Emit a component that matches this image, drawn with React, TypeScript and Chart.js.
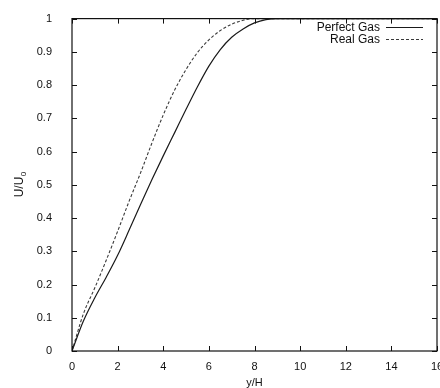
import React, { useEffect, useRef } from "react";
import { Chart, registerables } from "chart.js";

Chart.register(...registerables);

const yOverH = [0, 0.5, 1, 1.5, 2, 2.5, 3, 3.5, 4, 4.5, 5, 5.5, 6, 6.5, 7, 7.5, 8, 8.5, 9, 10, 12, 14, 16];
const perfectGas = [0, 0.09, 0.16, 0.222, 0.288, 0.363, 0.44, 0.515, 0.587, 0.657, 0.727, 0.795, 0.857, 0.907, 0.944, 0.969, 0.987, 0.997, 1, 1, 1, 1, 1];
const realGas = [0, 0.112, 0.19, 0.273, 0.36, 0.45, 0.535, 0.625, 0.71, 0.785, 0.847, 0.898, 0.936, 0.964, 0.983, 0.995, 1, 1, 1, 1, 1, 1, 1];
const seriesNames = ["Perfect Gas", "Real Gas"];
const xTicks = [0, 2, 4, 6, 8, 10, 12, 14, 16];
const yTicks = [0, 0.1, 0.2, 0.3, 0.4, 0.5, 0.6, 0.7, 0.8, 0.9, 1];
const xTitle = "y/H";
const yTitleMain = "U/U";
const yTitleSub = "0";

const FONT = "'Liberation Sans', Arial, Helvetica, sans-serif";

const framePlugin = {
  id: "framePlugin",
  afterDraw(chart: any) {
    const { ctx, chartArea } = chart;
    const { left, right, top, bottom } = chartArea;
    const xs = chart.scales.x;
    const ys = chart.scales.y;
    ctx.save();
    ctx.strokeStyle = "#111";
    ctx.lineWidth = 1.2;
    ctx.strokeRect(left, top, right - left, bottom - top);
    ctx.lineWidth = 1;
    xTicks.forEach((v) => {
      const px = Math.round(xs.getPixelForValue(v)) + 0.5;
      ctx.beginPath();
      ctx.moveTo(px, bottom);
      ctx.lineTo(px, bottom - 5);
      ctx.moveTo(px, top);
      ctx.lineTo(px, top + 5);
      ctx.stroke();
    });
    yTicks.forEach((v) => {
      const py = Math.round(ys.getPixelForValue(v)) + 0.5;
      ctx.beginPath();
      ctx.moveTo(left, py);
      ctx.lineTo(left + 5, py);
      ctx.moveTo(right, py);
      ctx.lineTo(right - 5, py);
      ctx.stroke();
    });
    // axis titles
    ctx.fillStyle = "#111";
    ctx.font = `11px ${FONT}`;
    ctx.textAlign = "center";
    ctx.textBaseline = "middle";
    ctx.fillText(xTitle, (left + xs.getPixelForValue(16)) / 2, 383);
    ctx.save();
    ctx.translate(23, (top + bottom) / 2);
    ctx.rotate(-Math.PI / 2);
    ctx.font = `12px ${FONT}`;
    ctx.textBaseline = "alphabetic";
    ctx.textAlign = "left";
    const mainW = ctx.measureText(yTitleMain).width;
    ctx.font = `8px ${FONT}`;
    const subW = ctx.measureText(yTitleSub).width;
    const start = -(mainW + subW) / 2;
    ctx.font = `12px ${FONT}`;
    ctx.fillText(yTitleMain, start, 0);
    ctx.font = `8px ${FONT}`;
    ctx.fillText(yTitleSub, start + mainW + 0.5, 3);
    ctx.restore();
    // legend
    ctx.font = `12px ${FONT}`;
    ctx.textAlign = "right";
    ctx.textBaseline = "middle";
    const rows = [28, 40];
    chart.data.datasets.forEach((ds: any, i: number) => {
      ctx.fillStyle = "#111";
      ctx.fillText(seriesNames[i], 380, rows[i]);
      ctx.strokeStyle = ds.borderColor;
      ctx.lineWidth = ds.borderWidth;
      ctx.setLineDash(ds.borderDash || []);
      ctx.beginPath();
      ctx.moveTo(386, rows[i] - 0.5);
      ctx.lineTo(423, rows[i] - 0.5);
      ctx.stroke();
      ctx.setLineDash([]);
    });
    ctx.restore();
  },
};

export default function App() {
  const ref = useRef<HTMLCanvasElement>(null);
  useEffect(() => {
    if (!ref.current) return;
    const chart = new Chart(ref.current, {
      type: "line",
      data: {
        datasets: [
          {
            label: seriesNames[0],
            data: yOverH.map((x, i) => ({ x, y: perfectGas[i] })),
            borderColor: "#1a1a1a",
            borderWidth: 1.2,
            pointRadius: 0,
            cubicInterpolationMode: "monotone",
            fill: false,
          },
          {
            label: seriesNames[1],
            data: yOverH.map((x, i) => ({ x, y: realGas[i] })),
            borderColor: "#3a3a3a",
            borderWidth: 1.1,
            borderDash: [3, 2],
            pointRadius: 0,
            cubicInterpolationMode: "monotone",
            fill: false,
          },
        ],
      },
      options: {
        responsive: false,
        animation: false,
        layout: { padding: { left: 0, top: 15, right: 33, bottom: 0 } },
        plugins: { legend: { display: false }, tooltip: { enabled: false } },
        scales: {
          x: {
            type: "linear",
            min: 0,
            max: 16,
            grid: { display: false },
            border: { display: false },
            afterFit: (s: any) => {
              s.height = 37;
            },
            afterBuildTicks: (s: any) => {
              s.ticks = xTicks.map((v) => ({ value: v }));
            },
            ticks: {
              color: "#111",
              font: { family: FONT, size: 11 },
              padding: 1,
              maxRotation: 0,
            },
          },
          y: {
            type: "linear",
            min: 0,
            max: 1,
            grid: { display: false },
            border: { display: false },
            afterFit: (s: any) => {
              s.width = 72;
            },
            afterBuildTicks: (s: any) => {
              s.ticks = yTicks.map((v) => ({ value: v }));
            },
            ticks: {
              color: "#111",
              font: { family: FONT, size: 11 },
              padding: 12,
              callback: (v: any) => String(Math.round(Number(v) * 10) / 10),
            },
          },
        },
      },
      plugins: [framePlugin],
    });
    return () => chart.destroy();
  }, []);
  return (
    <div
      style={{
        position: "fixed",
        left: 0,
        top: 0,
        width: 440,
        height: 388,
        overflow: "hidden",
        background: "#fff",
      }}
    >
      <canvas ref={ref} width={470} height={388} style={{ display: "block" }} />
    </div>
  );
}
